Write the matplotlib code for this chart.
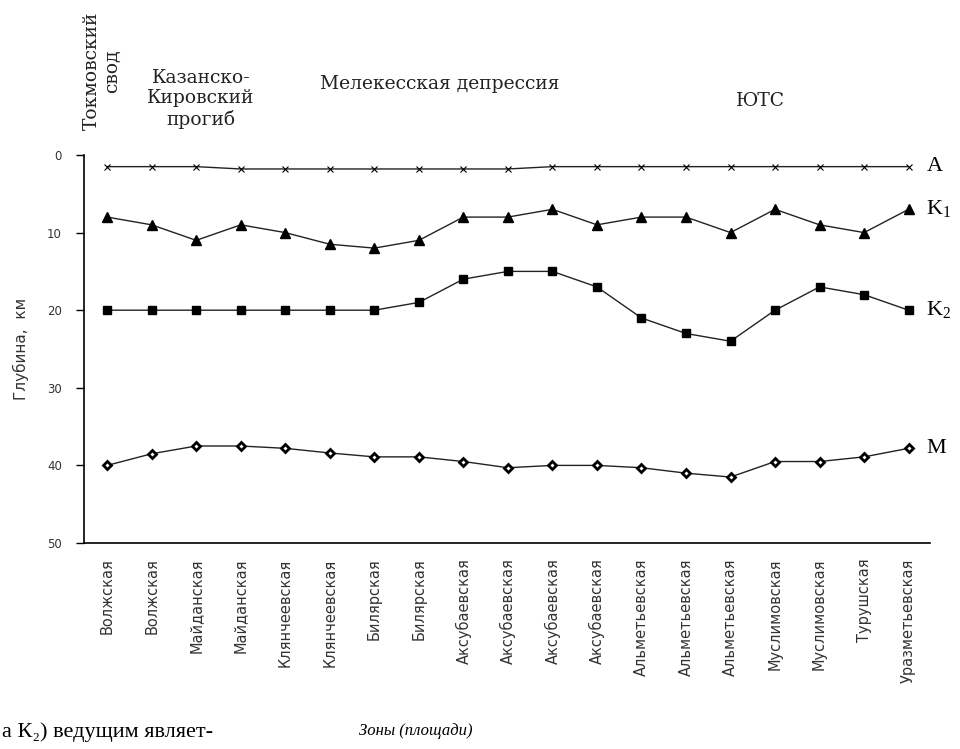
import numpy as np
import matplotlib
matplotlib.use("Agg")
import matplotlib.pyplot as plt

W, H = 960, 749

zones = ["Волжская", "Волжская", "Майданская", "Майданская", "Клянчеевская",
         "Клянчеевская", "Билярская", "Билярская", "Аксубаевская", "Аксубаевская",
         "Аксубаевская", "Аксубаевская", "Альметьевская", "Альметьевская",
         "Альметьевская", "Муслимовская", "Муслимовская", "Турушская",
         "Уразметьевская"]

depth_A = [1.5, 1.5, 1.5, 1.8, 1.8, 1.8, 1.8, 1.8, 1.8, 1.8,
           1.5, 1.5, 1.5, 1.5, 1.5, 1.5, 1.5, 1.5, 1.5]
depth_K1 = [8, 9, 11, 9, 10, 11.5, 12, 11, 8, 8,
            7, 9, 8, 8, 10, 7, 9, 10, 7]
depth_K2 = [20, 20, 20, 20, 20, 20, 20, 19, 16, 15,
            15, 17, 21, 23, 24, 20, 17, 18, 20]
depth_M = [40, 38.5, 37.5, 37.5, 37.8, 38.4, 38.9, 38.9, 39.5, 40.3,
           40, 40, 40.3, 41, 41.5, 39.5, 39.5, 38.9, 37.8]

series = [
    ("A", depth_A, dict(marker="x", ms=5, mew=0.8)),
    (r"K$_{\mathrm{1}}$", depth_K1, dict(marker="^", ms=7)),
    (r"K$_{\mathrm{2}}$", depth_K2, dict(marker="s", ms=6)),
    ("M", depth_M, dict(marker="D", ms=4.5, mfc="white", mew=2.0)),
]

regions = [
    ("Токмовский\nсвод", 102, 71, 90),
    ("Казанско-\nКировский\nпрогиб", 201, 99, 0),
    ("Мелекесская депрессия", 440, 84, 0),
    ("ЮТС", 761, 101, 0),
]

plt.rcParams["mathtext.fontset"] = "custom"
plt.rcParams["mathtext.rm"] = "Liberation Serif"

fig = plt.figure(figsize=(W / 100, H / 100), dpi=100)
ax = fig.add_axes([84 / W, 1 - 543 / H, (930 - 84) / W, (543 - 155) / H])

x = np.arange(len(zones))
for name, vals, style in series:
    ax.plot(x, vals, color="#222222", lw=1.0, mec="black",
            mfc=style.pop("mfc", "black"), **style)
    ax.text(18.4, vals[-1], name, fontsize=16, family="Liberation Serif",
            va="center", ha="left", clip_on=False)

ax.set_xlim(-0.52, 18.48)
ax.set_ylim(50, 0)
ax.set_yticks(range(0, 51, 10))
ax.set_xticks(x)
ax.set_xticklabels(zones, rotation=90, fontsize=10.5, family="DejaVu Sans",
                   color="#333333")
ax.tick_params(axis="x", length=0, pad=11)
ax.tick_params(axis="y", length=6, width=1, pad=10, labelsize=8.5,
               labelcolor="#333333")
for s in ["top", "right"]:
    ax.spines[s].set_visible(False)
for s in ["left", "bottom"]:
    ax.spines[s].set_linewidth(1.2)

fig.text(21 / W, 1 - 349 / H, "Глубина,  км", rotation=90, fontsize=11,
         family="DejaVu Sans", color="#333333", ha="center", va="center")

for label, px, py, rot in regions:
    fig.text(px / W, 1 - py / H, label, rotation=rot, fontsize=13.5,
             family="DejaVu Serif", color="#222222", ha="center", va="center",
             multialignment="center", linespacing=1.15)

fig.text(416 / W, 1 - 731 / H, "Зоны (площади)", fontsize=12,
         family="Liberation Serif", style="italic", ha="center", va="center")
fig.text(2 / W, 1 - 732 / H, "а К₂) ведущим являет-", fontsize=16,
         family=["Liberation Serif", "DejaVu Serif"], ha="left", va="center")

fig.savefig("out.png", dpi=100)
